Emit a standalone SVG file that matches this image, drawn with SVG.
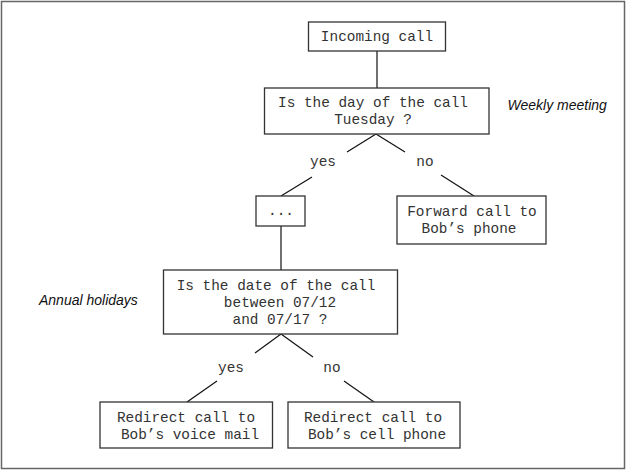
<svg xmlns="http://www.w3.org/2000/svg" width="627" height="471" viewBox="0 0 627 471">
  <style>
    .box { fill: #ffffff; stroke: #333333; stroke-width: 1.3; }
    .edge { stroke: #111111; stroke-width: 1.2; fill: none; }
    .mono { font-family: "Liberation Mono", "Courier New", monospace; font-size: 14.4px; fill: #333333; text-anchor: middle; }
    .note { font-family: "Liberation Sans", Arial, sans-serif; font-size: 14px; font-style: italic; fill: #111111; }
  </style>

  <!-- frame -->
  <rect x="1.5" y="1.5" width="623" height="467" fill="#ffffff" stroke="#666666" stroke-width="1.5"/>

  <!-- connectors -->
  <g id="connectors">
    <line class="edge" x1="377" y1="51" x2="377" y2="88"/>
    <line class="edge" x1="376" y1="134" x2="347" y2="152"/>
    <line class="edge" x1="376" y1="134" x2="405" y2="152"/>
    <line class="edge" x1="312" y1="177" x2="281" y2="196"/>
    <line class="edge" x1="441" y1="175" x2="474" y2="196"/>
    <line class="edge" x1="281" y1="226" x2="281" y2="270"/>
    <line class="edge" x1="281" y1="334" x2="255" y2="353"/>
    <line class="edge" x1="281" y1="334" x2="313" y2="357"/>
    <line class="edge" x1="217" y1="381" x2="187" y2="402"/>
    <line class="edge" x1="344" y1="381" x2="374" y2="402"/>
  </g>

  <g id="incoming-call">
    <rect class="box" x="308.5" y="22" width="137" height="29"/>
    <text class="mono" x="377" y="41">Incoming call</text>
  </g>

  <g id="tuesday-check">
    <rect class="box" x="264.5" y="88" width="224.5" height="46"/>
    <text class="mono" x="373" y="107">Is the day of the call</text>
    <text class="mono" x="373" y="124">Tuesday ?</text>
  </g>

  <g id="weekly-meeting-label">
    <text class="note" x="507.5" y="110">Weekly meeting</text>
  </g>

  <g id="yes-1">
    <text class="mono" x="323" y="166">yes</text>
  </g>
  <g id="no-1">
    <text class="mono" x="425" y="166">no</text>
  </g>

  <g id="ellipsis">
    <rect class="box" x="256" y="196" width="49" height="30"/>
    <text class="mono" x="281" y="215">...</text>
  </g>

  <g id="forward-call">
    <rect class="box" x="397" y="196" width="149" height="48"/>
    <text class="mono" x="472" y="216">Forward call to</text>
    <text class="mono" x="469" y="233">Bob’s phone</text>
  </g>

  <g id="holiday-check">
    <rect class="box" x="163.5" y="270" width="234" height="64"/>
    <text class="mono" x="276" y="290">Is the date of the call</text>
    <text class="mono" x="280" y="307">between 07/12</text>
    <text class="mono" x="280" y="324">and 07/17 ?</text>
  </g>

  <g id="annual-holidays-label">
    <text class="note" x="39" y="305">Annual holidays</text>
  </g>

  <g id="yes-2">
    <text class="mono" x="231" y="372">yes</text>
  </g>
  <g id="no-2">
    <text class="mono" x="332" y="372">no</text>
  </g>

  <g id="voice-mail">
    <rect class="box" x="100" y="402" width="172.5" height="46"/>
    <text class="mono" x="186" y="422">Redirect call to</text>
    <text class="mono" x="190" y="439">Bob’s voice mail</text>
  </g>

  <g id="cell-phone">
    <rect class="box" x="288" y="402" width="172" height="46"/>
    <text class="mono" x="373" y="422">Redirect call to</text>
    <text class="mono" x="377" y="439">Bob’s cell phone</text>
  </g>
</svg>
